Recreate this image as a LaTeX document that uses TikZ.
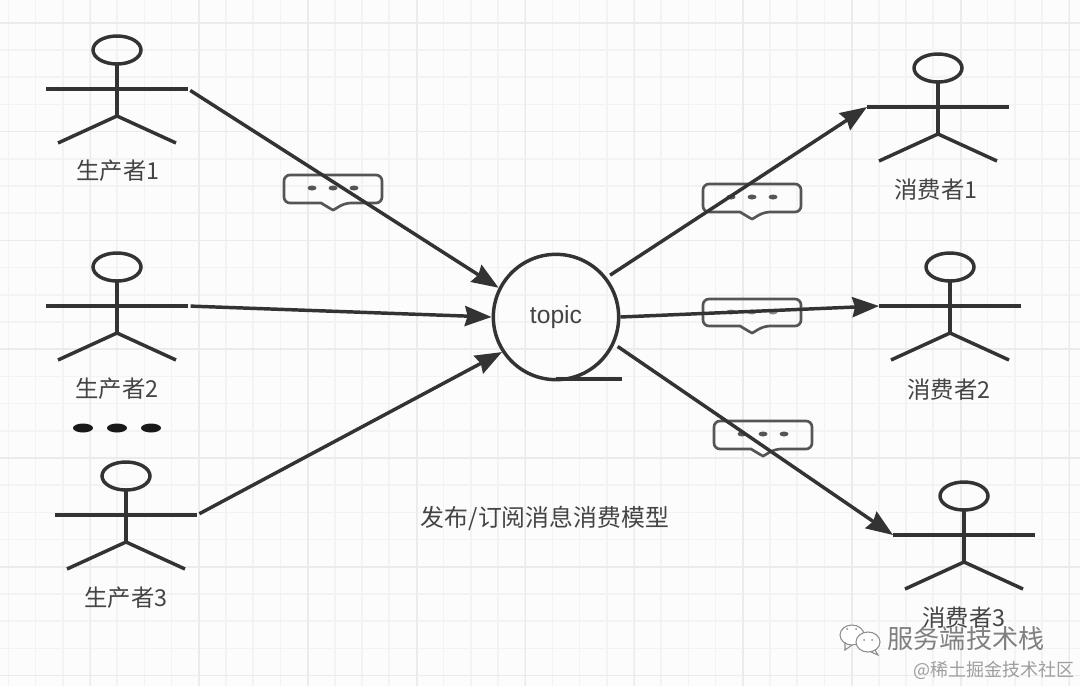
\documentclass[tikz,border=0pt]{standalone}
\usepackage{fontspec}
\setmainfont{Noto Sans CJK SC}
\newfontfamily\latinf{Liberation Sans}
\usetikzlibrary{arrows.meta}
\definecolor{ink}{HTML}{333333}
\definecolor{txt}{HTML}{444444}
\definecolor{bub}{HTML}{555555}
\definecolor{gmin}{HTML}{F3F3F3}
\definecolor{gmaj}{HTML}{EBEBEB}
\tikzset{
  stick/.style={draw=ink,line width=2.6pt},
  msgline/.style={draw=ink,line width=2.6pt,-{Stealth[length=20pt,width=15pt,inset=2pt]}},
  label/.style={text=txt,font=\fontsize{17.5pt}{19pt}\selectfont,inner sep=0pt},
  bubbleline/.style={draw=bub,line width=2pt,rounded corners=4.5pt},
  wm/.style={inner sep=0pt,text=black!50},
}
\newcommand{\actor}[4]{% name, x, y(head centre), label offset
  \begin{scope}[shift={(#2,#3)}]
    \draw[stick] (0,0) ellipse [x radius=24,y radius=14];
    \draw[stick] (0,14) -- (0,66);
    \draw[stick] (-71,39) -- (71,39);
    \draw[stick] (-59,93) -- (0,66) -- (59,93);
    \coordinate (#1L) at (-71,39);
    \coordinate (#1R) at (71,39);
    \node[label] (#1T) at (#4) {\csname lbl#1\endcsname};
  \end{scope}}
\newcommand{\msgbubble}[4]{% cx, top, bottom, dot colour
  \begin{scope}[shift={(#1,0)}]
    \draw[bubbleline] (-49,#2) -- (49,#2) -- (49,#3) -- (12,#3)
      [sharp corners] -- (2,#3+6) -- (0,#3+7) -- (-2,#3+6) -- (-12,#3)
      [rounded corners=4.5pt] -- (-49,#3) -- cycle;
    \fill[#4] (-21,#2+13) ellipse [x radius=4.5,y radius=2.5];
    \fill[#4] (0,#2+13) ellipse [x radius=4.5,y radius=2.5];
    \fill[#4] (21,#2+13) ellipse [x radius=4.5,y radius=2.5];
  \end{scope}}
\newcommand{\lblPa}{生产者1}
\newcommand{\lblPb}{生产者2}
\newcommand{\lblPc}{生产者3}
\newcommand{\lblCa}{消费者1}
\newcommand{\lblCb}{消费者2}
\newcommand{\lblCc}{消费者3}
\begin{document}
\begin{tikzpicture}[x=0.75pt,y=-0.75pt]
\useasboundingbox (0,0) rectangle (1080,686);
\fill[white!99!black] (0,0) rectangle (1080,686);
\foreach \i in {0,...,40} {
  \draw[gmin,line width=1.2pt] ({8.4+27.2*\i},0) -- ({8.4+27.2*\i},686);
  \draw[gmin,line width=1.2pt] (0,{22.7+27.2*\i}) -- (1080,{22.7+27.2*\i});
}
\foreach \i in {0,...,10} {
  \draw[gmaj,line width=1.2pt] ({90.4+108.8*\i-108.8},0) -- ({90.4+108.8*\i-108.8},686);
  \draw[gmaj,line width=1.2pt] (0,{22.7+108.8*\i}) -- (1080,{22.7+108.8*\i});
}
% bubbles
\msgbubble{333}{175}{203}{bub}
\msgbubble{752}{184}{212}{bub}
\msgbubble{752}{299}{326}{black!45}
\msgbubble{763}{421}{449}{bub}
% actors
\actor{Pa}{117}{50}{1,121}
\actor{Pb}{117}{267}{0,122}
\actor{Pc}{126}{476}{0,122}
\actor{Ca}{938}{68}{-2,122}
\actor{Cb}{950}{267}{-1,123}
\actor{Cc}{964}{496}{0,122}
% topic
\node[circle,draw=ink,line width=2.6pt,minimum size=94pt,inner sep=0pt,
      text=txt,font=\latinf\fontsize{18.5pt}{20pt}\selectfont] (topic) at (556,317) {topic};
\coordinate (topicfootL) at (556,379);
\coordinate (topicfootR) at (622,379);
\draw[stick] (topicfootL) -- (topicfootR);
% connectors
\draw[msgline,shorten <=2pt] (PaR) -- (topic.153);
\draw[msgline,shorten <=2pt] (PbR) -- (topic.180);
\draw[msgline,shorten <=2pt] (PcR) -- (topic.213);
\draw[msgline,shorten <=3pt] (topic.38) -- (CaL);
\draw[msgline] (topic.0) -- (CbL);
\draw[msgline,shorten <=3pt] (topic.-25) -- (CcL);
% ellipsis dots
\foreach \x in {83,117,151} \fill[black!90] (\x,428) ellipse [x radius=10,y radius=4.5];
% title
\node[label,font=\fontsize{17.9pt}{20pt}\selectfont] (title) at (545,518) {发布/订阅消息消费模型};
% watermark
\draw[black!45,fill=white,line width=0.8pt] (852,635) ellipse [x radius=12,y radius=10];
\draw[black!45,line width=0.8pt] (845,642) -- (845,650) -- (852,645);
\draw[black!45,fill=white,line width=0.8pt] (868,642) ellipse [x radius=12,y radius=10];
\draw[black!45,line width=0.8pt] (875,650) -- (878,655) -- (871,652);
\foreach \x/\y in {847/629,856/629,864/640,872/640} \fill[black!45] (\x,\y) circle [radius=1];
\node[wm,font=\fontsize{19.6pt}{21pt}\selectfont] (wmA) at (966,639) {服务端技术栈};
\node[wm,text=black!38,font=\fontsize{13.5pt}{15pt}\selectfont] (wmB) at (994,670) {@稀土掘金技术社区};
\end{tikzpicture}
\end{document}
